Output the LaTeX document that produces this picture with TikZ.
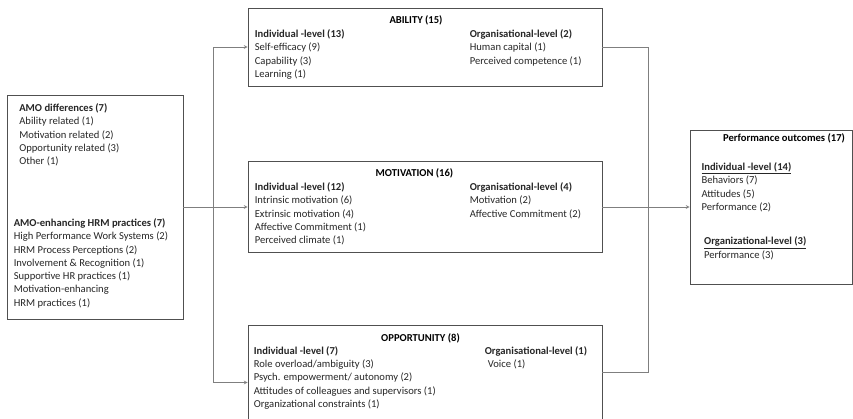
\documentclass[tikz,border=0pt]{standalone}
\usepackage{fontspec}
\setmainfont{Carlito}
\usepackage{xcolor}
\usepackage{tikz}
\usetikzlibrary{positioning}

\definecolor{boxline}{HTML}{505050}
\definecolor{linkline}{HTML}{7F7F7F}
\definecolor{bodytext}{HTML}{262626}

\begin{document}
\begin{tikzpicture}[x=1pt, y=-1pt,
    box/.style={rectangle, draw=boxline, line width=0.8pt, inner sep=0pt},
    title/.style={inner sep=0pt, anchor=north, font=\fontsize{10.6}{13.3}\selectfont\bfseries, text=black},
    entries/.style={inner sep=0pt, anchor=north west, align=left, font=\fontsize{10.6}{13.3}\selectfont, text=bodytext},
    link/.style={draw=linkline, line width=0.7pt},
    arrow/.style={link, ->, >=stealth}]

    \useasboundingbox (0,0) rectangle (853,418);
    \clip (0,0) rectangle (853,418);

    % boxes
    \node [box, minimum width=176pt, minimum height=224pt] (amo) at (95,207) {};
    \node [box, minimum width=354pt, minimum height=78pt] (ability) at (425,47) {};
    \node [box, minimum width=354pt, minimum height=91pt] (motivation) at (425,207) {};
    \node [box, minimum width=354pt, minimum height=115pt] (opportunity) at (425,382.5) {};
    \node [box, minimum width=162pt, minimum height=154pt] (outcomes) at (771,207) {};

    % AMO box
    \node [entries, below right=8.8pt and 12.5pt of amo.north west] (amoDiff)
        {\textbf{AMO differences (7)}\\Ability related (1)\\Motivation related (2)\\Opportunity related (3)\\Other (1)};
    \node [entries, below right=123.8pt and 7pt of amo.north west] (amoHRM)
        {\textbf{AMO-enhancing HRM practices (7)}\\High Performance Work Systems (2)\\HRM Process Perceptions (2)\\Involvement \& Recognition (1)\\Supportive HR practices (1)\\Motivation-enhancing\\HRM practices (1)};

    % ability
    \node [title, below=8.3pt of ability.north, xshift=-9pt] (abilityT) {ABILITY (15)};
    \node [entries, below right=22pt and 7pt of ability.north west] (abilityInd)
        {\textbf{Individual -level (13)}\\Self-efficacy (9)\\Capability (3)\\Learning (1)};
    \node [entries, below right=22pt and 222pt of ability.north west] (abilityOrg)
        {\textbf{Organisational-level (2)}\\Human capital (1)\\Perceived competence (1)};

    % motivation
    \node [title, below=7.8pt of motivation.north, xshift=-10.5pt] (motivationT) {MOTIVATION (16)};
    \node [entries, below right=21.5pt and 7pt of motivation.north west] (motivationInd)
        {\textbf{Individual -level (12)}\\Intrinsic motivation (6)\\Extrinsic motivation (4)\\Affective Commitment (1)\\Perceived climate (1)};
    \node [entries, below right=21.5pt and 222pt of motivation.north west] (motivationOrg)
        {\textbf{Organisational-level (4)}\\Motivation (2)\\Affective Commitment (2)};

    % opportunity
    \node [title, below=9pt of opportunity.north, xshift=-4.5pt] (opportunityT) {OPPORTUNITY (8)};
    \node [entries, below right=21.6pt and 6pt of opportunity.north west] (opportunityInd)
        {\textbf{Individual -level (7)}\\Role overload/ambiguity (3)\\Psych. empowerment/ autonomy (2)\\Attitudes of colleagues and supervisors (1)\\Organizational constraints (1)};
    \node [entries, below right=21.6pt and 237pt of opportunity.north west] (opportunityOrg)
        {\textbf{Organisational-level (1)}\\\hspace{3pt}Voice (1)};

    % outcomes
    \node [title, below=4pt of outcomes.north, xshift=13pt] (outcomesT) {Performance outcomes (17)};
    \node [entries, below right=33pt and 11.7pt of outcomes.north west] (outcomesInd)
        {\underline{\textbf{Individual -level (14)}}\\Behaviors (7)\\Attitudes (5)\\Performance (2)};
    \node [entries, below right=107.3pt and 14.3pt of outcomes.north west] (outcomesOrg)
        {\underline{\textbf{Organizational-level (3)}}\\Performance (3)};

    % connectors
    \coordinate (split) at (213,207);
    \coordinate (merge) at (648,207);
    \coordinate (oppOut) at ([yshift=-48pt]opportunity.north east);

    \draw [arrow] (amo.east) -- (motivation.west);
    \draw [arrow] (split) |- (ability.west);
    \draw [arrow] (split) |- (opportunity.west);
    \draw [link] (ability.east) -| (merge) |- (oppOut);
    \draw [arrow] (motivation.east) -- (outcomes.west);
\end{tikzpicture}
\end{document}
